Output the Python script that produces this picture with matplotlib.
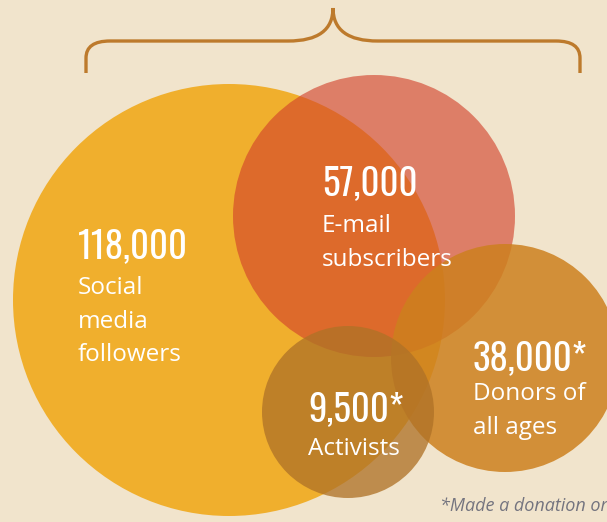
import matplotlib
matplotlib.use("Agg")
import matplotlib.pyplot as plt
from matplotlib.patches import Circle, PathPatch
from matplotlib.path import Path

# ---- data ----
values = ["118,000", "57,000", "38,000*", "9,500*"]
labels = ["Social\nmedia\nfollowers", "E-mail\nsubscribers", "Donors of\nall ages", "Activists"]
footnote = "*Made a donation or"

# ---- layout (pixel coordinates, y downward) ----
centers = [(229, 300), (374, 216), (505, 358), (348, 412)]
radii = [216, 141, 114, 86]
colors = [(240/255, 175/255, 45/255, 1.0),
          (210/255, 64/255, 42/255, 0.62),
          (205/255, 128/255, 30/255, 0.85),
          (175/255, 114/255, 39/255, 0.77)]
num_pos = [(78, 258), (322, 195), (473, 370), (308, 421)]
lab_pos = [(78, 294), (322, 232), (473, 400), (308, 455)]

BG = "#F1E4CC"
W, H = 607, 522
fig = plt.figure(figsize=(W / 100, H / 100), dpi=100)
fig.patch.set_facecolor(BG)
ax = fig.add_axes([0, 0, 1, 1])
ax.set_xlim(0, W)
ax.set_ylim(H, 0)
ax.set_facecolor(BG)
ax.axis("off")

for (cx, cy), r, c in zip(centers, radii, colors):
    ax.add_patch(Circle((cx, cy), r, facecolor=c, edgecolor="none"))

num_font = ["Oswald", "Bebas Neue", "DejaVu Sans"]
lab_font = ["Open Sans", "DejaVu Sans"]
for v, l, (nx, ny), (lx, ly) in zip(values, labels, num_pos, lab_pos):
    ax.text(nx, ny, v, color="white", fontsize=26.5, fontweight=600,
            family=num_font, ha="left", va="baseline")
    for i, s in enumerate(l.split("\n")):
        ax.text(lx, ly + i * 33.5, s, color="white", fontsize=17.5, family=lab_font,
                fontweight="normal", ha="left", va="baseline")

# bracket
verts = [(86, 73), (86, 58), (86, 41), (110, 41), (288, 41),
         (318, 41), (333, 30), (333, 8),
         (333, 30), (348, 41), (378, 41),
         (556, 41), (580, 41), (580, 58), (580, 73)]
codes = [Path.MOVETO, Path.LINETO, Path.CURVE3, Path.CURVE3, Path.LINETO,
         Path.CURVE4, Path.CURVE4, Path.CURVE4,
         Path.CURVE4, Path.CURVE4, Path.CURVE4,
         Path.LINETO, Path.CURVE3, Path.CURVE3, Path.LINETO]
ax.add_patch(PathPatch(Path(verts, codes), facecolor="none",
                       edgecolor="#BD7A2C", linewidth=2.4, capstyle="butt"))

ax.text(440, 511, footnote, color="#74747F", fontsize=13, style="italic",
        family=lab_font, ha="left", va="baseline")

fig.savefig("out.png", dpi=100, facecolor=fig.get_facecolor())
